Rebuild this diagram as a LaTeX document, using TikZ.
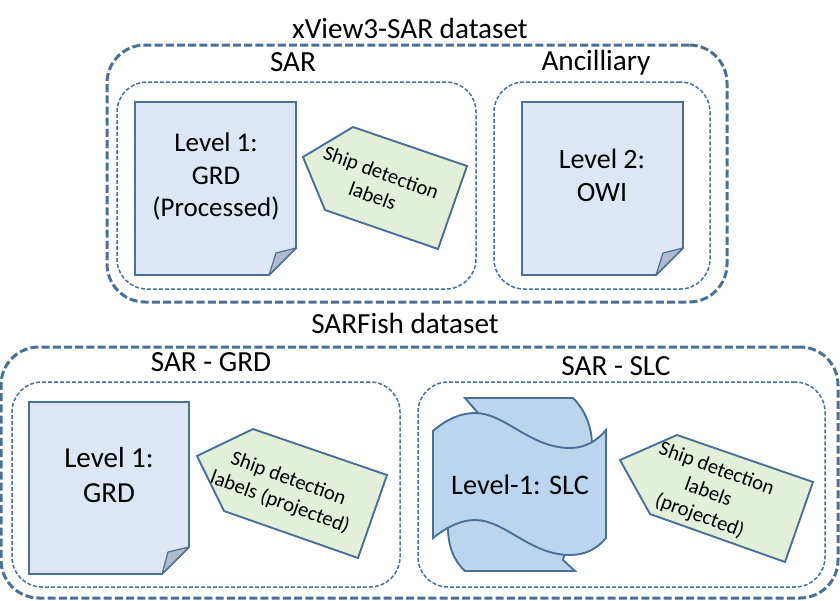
\documentclass[tikz,border=0pt]{standalone}
\usepackage{fontspec}
\setmainfont{Carlito}
\definecolor{edge}{HTML}{4A7096}
\definecolor{notefill}{HTML}{DCE6F4}
\definecolor{tagfill}{HTML}{E2EFD9}
\definecolor{slcfill}{HTML}{BCD5EE}
\definecolor{foldfill}{HTML}{B0BCCD}
\tikzset{
  outerbox/.style={draw=edge,line width=3pt,dash pattern=on 8pt off 3.2pt,rounded corners=38pt,inner sep=0pt},
  innerbox/.style={draw=edge,line width=1.5pt,dash pattern=on 4pt off 2pt,rounded corners=30pt,inner sep=0pt},
  notebox/.style={draw=none,inner sep=0pt,align=center},
  noteline/.style={draw=edge,line width=1.9pt,fill=notefill,line join=miter},
  foldline/.style={draw=edge,line width=1.2pt,fill=foldfill,line join=round},
  tagline/.style={draw=edge,line width=1.9pt,fill=tagfill,line join=miter},
  taglabel/.style={inner sep=0pt,align=center,rotate=-20,font=\fontsize{20.7}{25}\selectfont},
  slcline/.style={draw=edge,line width=1.9pt,fill=slcfill,line join=miter},
  headlabel/.style={inner sep=0pt,font=\fontsize{29.2}{32}\selectfont},
}
\begin{document}
\begin{tikzpicture}[x=1pt,y=-1pt]
\useasboundingbox (0,0) rectangle (840,600);
% outer and inner frames
\node[outerbox,minimum width=620pt,minimum height=257pt] (xview) at (417,173.5) {};
\node[innerbox,minimum width=359pt,minimum height=207pt] (sarbox) at (296.5,185.5) {};
\node[innerbox,minimum width=216pt,minimum height=207pt] (ancbox) at (602,185.5) {};
\node[outerbox,minimum width=837pt,minimum height=251pt] (sarfish) at (419.5,472.5) {};
\node[innerbox,minimum width=388pt,minimum height=205pt] (grdbox) at (206,484.5) {};
\node[innerbox,minimum width=407pt,minimum height=205pt] (slcbox) at (621.5,484.5) {};
% headings
\node[headlabel] (t1) at (410,28) {xView3-SAR dataset};
\node[headlabel] (t2) at (293,62) {SAR};
\node[headlabel] (t3) at (596,63) {Ancilliary};
\node[headlabel] (t4) at (405,323) {SARFish dataset};
\node[headlabel] (t5) at (211,362) {SAR - GRD};
\node[headlabel] (t6) at (616,366) {SAR - SLC};
% note 1
\draw[noteline] (135,102) -- (296,102) -- (296,248) -- (269,275) -- (135,275) -- cycle;
\draw[foldline] (269,275) -- (276,253) -- (296,248) -- cycle;
\node[notebox,font=\fontsize{27}{32.5}\selectfont] (n1) at (216,176.5) {Level 1:\\GRD\\(Processed)};
% note 2
\draw[noteline] (522,102) -- (683,102) -- (683,248) -- (656,275) -- (522,275) -- cycle;
\draw[foldline] (656,275) -- (663,253) -- (683,248) -- cycle;
\node[notebox,font=\fontsize{28}{33}\selectfont] (n2) at (602,175.5) {Level 2:\\OWI};
% note 3
\draw[noteline] (29,402) -- (189,402) -- (189,547) -- (162,574) -- (29,574) -- cycle;
\draw[foldline] (162,574) -- (168,552) -- (189,547) -- cycle;
\node[notebox,font=\fontsize{29}{35}\selectfont] (n3) at (109,475) {Level 1:\\GRD};
% tags
\draw[tagline] (303,157) -- (353,127) -- (467,166) -- (438,249) -- (325,210) -- cycle;
\node[taglabel] (l1) at (377,184) {Ship detection\\labels};
\draw[tagline] (197,456) -- (253,429) -- (387,475) -- (358,558) -- (224,511) -- cycle;
\node[taglabel] (l3) at (284,491) {Ship detection\\labels (projected)};
\draw[tagline] (620,460) -- (677,435) -- (813,482) -- (785,562) -- (650,514) -- cycle;
\node[taglabel] (l4) at (708,493) {Ship detection\\labels\\(projected)};
% SLC stack
\draw[slcline] (465,398) -- (573,398) .. controls (584,409) and (592,425) .. (592,446) -- (563,560) -- (575,571) -- (465,571) .. controls (453,560) and (448,545) .. (448,527) -- (478,413) -- cycle;
\draw[slcline] (433,431) .. controls (448,418) and (462,413) .. (475,413)
  .. controls (505,413) and (530,448) .. (570,448)
  .. controls (585,448) and (597,441) .. (606,430)
  -- (606,538) .. controls (597,549) and (585,555) .. (570,555)
  .. controls (530,555) and (505,520) .. (475,520)
  .. controls (462,520) and (448,526) .. (433,538) -- cycle;
\node[inner sep=0pt,font=\fontsize{28.3}{30}\selectfont] (n4) at (520,485) {Level-1: SLC};
\end{tikzpicture}
\end{document}
